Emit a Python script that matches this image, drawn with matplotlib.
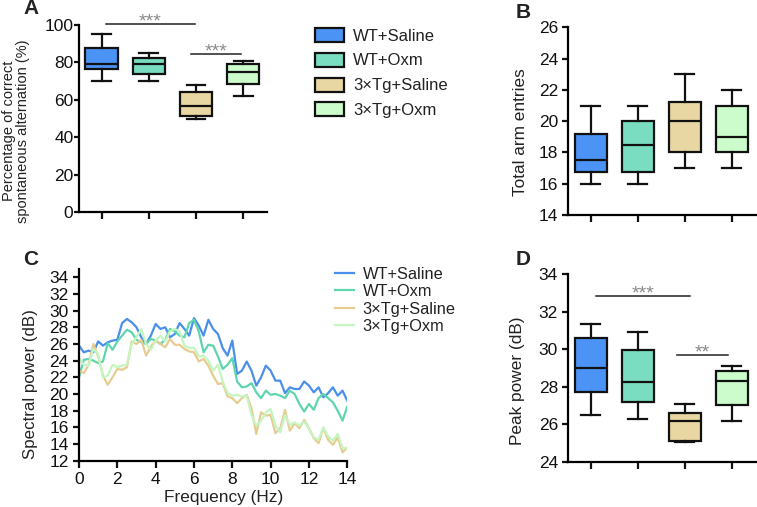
import matplotlib
matplotlib.use('Agg')
import matplotlib.pyplot as plt
import numpy as np

plt.rcParams['font.family'] = ['Liberation Sans', 'DejaVu Sans']
plt.rcParams['text.color'] = '#222222'
plt.rcParams['axes.labelcolor'] = '#222222'
plt.rcParams['xtick.color'] = '#111111'
plt.rcParams['ytick.color'] = '#111111'

groups = ['WT+Saline', 'WT+Oxm', '3×Tg+Saline', '3×Tg+Oxm']
box_colors = ['#4B94F5', '#7ADDC2', '#E8D6A3', '#CCFBCC']
line_colors = ['#4A8FEA', '#5ED5AE', '#E6CC90', '#C5F5C0']

# box stats: whislo, q1, med, q3, whishi
alternation = [[70, 76.5, 79.2, 87.5, 95.2],
               [70, 73.8, 79.0, 82.2, 85.2],
               [50, 51.6, 56.9, 64.4, 67.8],
               [61.9, 68.5, 75.1, 79.0, 80.8]]
arm_entries = [[16, 16.75, 17.5, 19.2, 21],
               [16, 16.75, 18.5, 20, 21],
               [17, 18, 20, 21.25, 23],
               [17, 18, 19, 21, 22]]
peak_power = [[26.5, 27.72, 29.02, 30.58, 31.32],
              [26.29, 27.2, 28.26, 29.96, 30.9],
              [25.06, 25.1, 26.2, 26.62, 27.07],
              [26.16, 27.03, 28.31, 28.82, 29.09]]

freq = np.arange(0, 14.01, 0.25)
wt_saline = [25.8, 25.0, 25.2, 25.0, 26.3, 25.8, 26.2, 26.4, 26.5, 28.5, 29.0, 28.6, 28.0, 26.8, 26.0,
             27.0, 28.4, 27.8, 28.0, 26.8, 27.2, 28.5, 27.8, 27.0, 29.1, 28.2, 27.0, 28.9, 27.8, 27.2,
             25.5, 24.6, 26.4, 22.4, 22.8, 23.9, 22.8, 21.0, 22.0, 23.4, 22.8, 21.6, 21.6, 20.1, 20.8,
             20.6, 20.6, 21.5, 21.0, 20.2, 20.8, 19.6, 20.1, 20.8, 19.8, 20.4, 19.2]
wt_oxm = [22.0, 24.1, 24.2, 24.0, 23.7, 23.9, 26.1, 25.3, 26.3, 27.0, 27.7, 27.4, 26.5, 26.2, 26.0,
          26.6, 26.4, 26.0, 26.5, 27.8, 27.5, 27.0, 26.8, 28.5, 28.9, 27.5, 25.0, 25.9, 25.8, 24.5,
          23.0, 23.5, 24.3, 21.5, 20.8, 20.9, 21.3, 20.2, 19.5, 20.4, 19.9, 20.0, 19.8, 19.5, 20.4,
          20.0, 18.8, 17.9, 18.8, 18.1, 19.5, 20.0, 19.5, 19.0, 18.0, 16.8, 18.5]
tg_saline = [22.8, 22.5, 23.5, 26.0, 24.5, 22.2, 21.1, 22.0, 23.0, 22.9, 23.2, 26.3, 26.0, 26.5, 24.6,
             25.7, 26.4, 26.0, 25.6, 26.6, 25.9, 25.9, 25.4, 25.1, 25.0, 23.9, 24.2, 23.4, 22.2, 21.2,
             21.3, 19.7, 19.5, 18.9, 19.5, 19.9, 18.3, 15.2, 17.8, 17.4, 17.5, 15.3, 15.9, 18.1, 15.6,
             16.5, 15.9, 16.9, 15.9, 14.7, 14.1, 15.9, 14.5, 13.9, 14.8, 13.0, 13.6]
tg_oxm = [24.3, 23.5, 23.4, 25.4, 24.8, 22.0, 22.2, 23.5, 23.2, 23.4, 23.5, 26.0, 26.8, 27.8, 26.0,
          25.3, 26.4, 27.0, 26.3, 27.5, 27.8, 27.5, 25.8, 25.5, 25.6, 24.5, 24.6, 24.0, 22.8, 23.5,
          21.5, 20.1, 19.8, 19.9, 19.7, 19.8, 17.5, 16.2, 16.8, 17.8, 18.2, 16.2, 15.4, 17.5, 16.3,
          16.6, 16.2, 16.7, 15.8, 14.8, 14.5, 16.0, 14.9, 14.4, 15.2, 13.5, 13.5]
spectra = [wt_saline, wt_oxm, tg_saline, tg_oxm]

W, H = 757, 507
fig = plt.figure(figsize=(W / 100, H / 100), dpi=100)


def px_axes(left, right, top, bottom):
    return fig.add_axes([left / W, 1 - bottom / H, (right - left) / W, (bottom - top) / H])


def style(ax, ylen=4.5, ypad=3):
    for s in ['top', 'right']:
        ax.spines[s].set_visible(False)
    for s in ['left', 'bottom']:
        ax.spines[s].set_linewidth(1.6)
    ax.tick_params(width=1.6, labelsize=12.5, direction='out')
    ax.tick_params(axis='x', length=5, pad=3)
    ax.tick_params(axis='y', length=ylen, pad=ypad)


def boxes(ax, data):
    stats = []
    for d in data:
        stats.append(dict(whislo=d[0], q1=d[1], med=d[2], q3=d[3], whishi=d[4], fliers=[]))
    b = ax.bxp(stats, positions=[1, 2, 3, 4], widths=0.69, patch_artist=True, showfliers=False,
               boxprops=dict(linewidth=1.6, edgecolor='#111111'),
               medianprops=dict(color='#111111', linewidth=1.6),
               whiskerprops=dict(color='#111111', linewidth=1.6),
               capprops=dict(color='#111111', linewidth=1.6), capwidths=0.4)
    for patch, c in zip(b['boxes'], box_colors):
        patch.set_facecolor(c)
    ax.set_xticks([1, 2, 3, 4])
    ax.set_xticklabels([])


def sig(ax, x0, x1, y, text):
    ax.plot([x0, x1], [y, y], color='#222222', lw=1.1, clip_on=False)
    ax.annotate(text, xy=((x0 + x1) / 2, y), xytext=(0, -1.7), textcoords='offset points',
                ha='center', va='baseline', color='#8a8a8a', fontsize=14, annotation_clip=False)


# panel A
axA = px_axes(79, 266.7, 25, 212.3)
boxes(axA, alternation)
axA.set_xlim(0.52, 4.5)
axA.set_ylim(0, 100)
axA.set_yticks([0, 20, 40, 60, 80, 100])
axA.set_ylabel('Percentage of correct\nspontaneous alternation (%)', fontsize=10.5, linespacing=0.95)
axA.yaxis.set_label_coords(-0.262, 0.434)
style(axA, ylen=3.5, ypad=0.5)
sig(axA, 1.1, 2.97, 100.4, '***')
sig(axA, 2.9, 3.95, 84.3, '***')

handles = [plt.Rectangle((0, 0), 1, 1, facecolor=c, edgecolor='#111111', lw=1.6) for c in box_colors]
fig.legend(handles, groups, loc='upper left', bbox_to_anchor=(300 / W, 1 - 13 / H), frameon=False,
           fontsize=12, handlelength=1.75, handleheight=0.9, labelspacing=0.55, handletextpad=0.55)

# panel B
axB = px_axes(568.3, 757.7, 27.3, 215)
boxes(axB, arm_entries)
axB.set_xlim(0.52, 4.55)
axB.set_ylim(14, 26)
axB.set_yticks([14, 16, 18, 20, 22, 24, 26])
axB.set_ylabel('Total arm entries', fontsize=12.4)
axB.yaxis.set_label_coords(-0.211, 0.442)
style(axB)

# panel C
axC = px_axes(79, 347.3, 268.9, 460.7)
for y, c, g in zip(spectra, line_colors, groups):
    axC.plot(freq, y, color=c, lw=1.6, label=g, solid_joinstyle='round')
axC.set_xlim(0, 14)
axC.set_ylim(12, 35)
axC.set_yticks(np.arange(12, 35, 2))
axC.set_xticks(np.arange(0, 15, 2))
axC.set_xlabel('Frequency (Hz)', fontsize=12.4)
axC.xaxis.set_label_coords(0.54, -0.153)
axC.set_ylabel('Spectral power (dB)', fontsize=12.2)
axC.yaxis.set_label_coords(-0.151, 0.40)
style(axC)
axC.legend(loc='upper left', bbox_to_anchor=(320 / W, 1 - 252 / H), bbox_transform=fig.transFigure,
           frameon=False, fontsize=11.8, handlelength=1.15, labelspacing=0.15, handletextpad=0.55)

# panel D
axD = px_axes(568.3, 757.7, 274, 462)
boxes(axD, peak_power)
axD.set_xlim(0.52, 4.55)
axD.set_ylim(24, 34)
axD.set_yticks([24, 26, 28, 30, 32, 34])
axD.set_ylabel('Peak power (dB)', fontsize=12.4)
axD.yaxis.set_label_coords(-0.226, 0.431)
style(axD)
sig(axD, 1.1, 3.12, 32.81, '***')
sig(axD, 2.84, 3.92, 29.71, '**')

for letter, x, y in [('A', 23, -1), ('B', 516, 3), ('C', 23, 250), ('D', 516, 250)]:
    fig.text(x / W, 1 - y / H, letter, fontsize=15, fontweight='bold', va='top', ha='left')

fig.savefig('out.png', dpi=100)
